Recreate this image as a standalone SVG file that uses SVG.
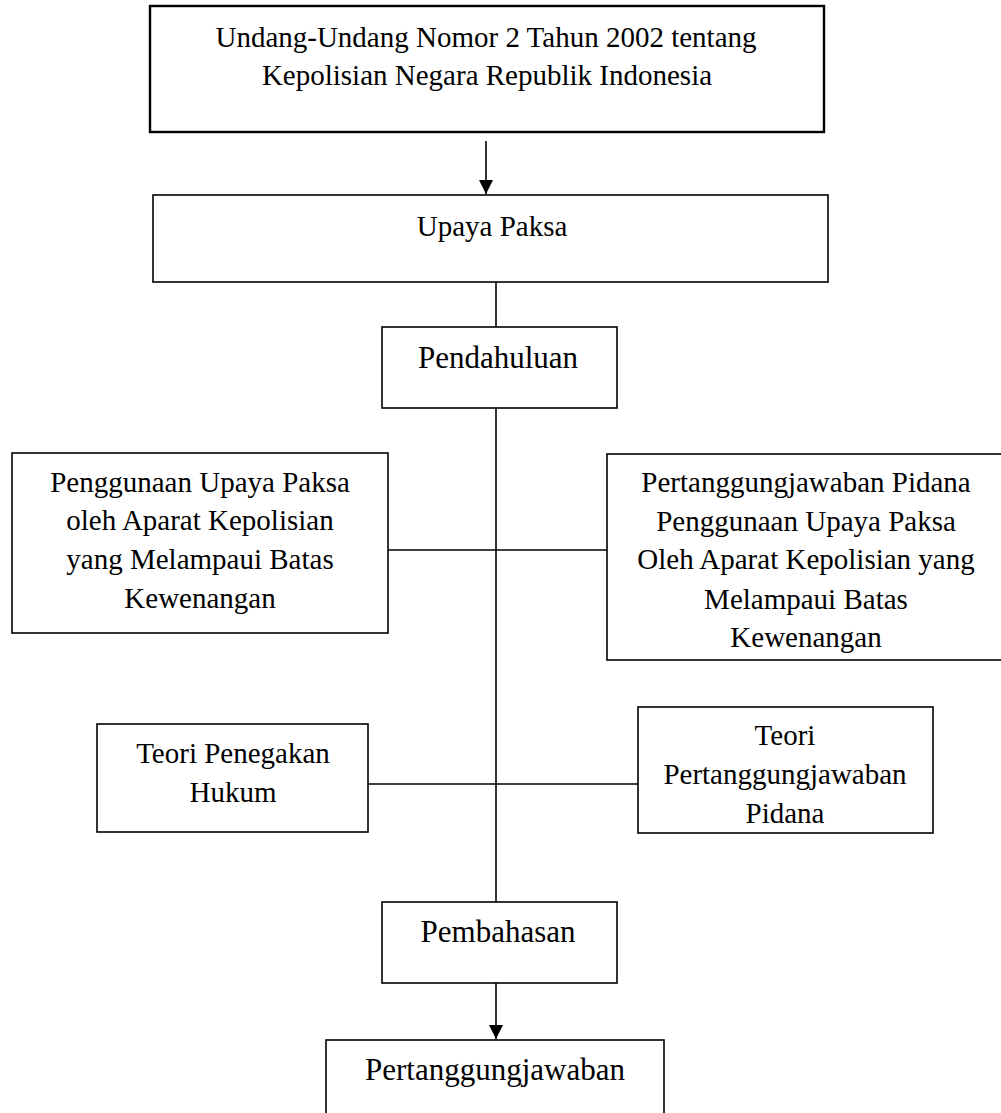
<svg xmlns="http://www.w3.org/2000/svg" width="1001" height="1113" viewBox="0 0 1001 1113">
<style>
.box{fill:#fff;stroke:#000;stroke-width:1.6}
.t{font-family:"Liberation Serif","Times New Roman",serif;font-size:29px;fill:#000;text-anchor:middle}
.b{font-size:31px}
.c{stroke:#000;stroke-width:1.6;fill:none}
</style>
<defs>
<marker id="ah" markerWidth="14" markerHeight="14" refX="14" refY="7" orient="auto" markerUnits="userSpaceOnUse">
<path d="M0,0 L14,7 L0,14 Z" fill="#000"/>
</marker>
</defs>
<rect width="1001" height="1113" fill="#fff"/>
<g id="connectors">
<line class="c" x1="486" y1="141" x2="486" y2="194" marker-end="url(#ah)"/>
<line class="c" x1="496" y1="282" x2="496" y2="327"/>
<line class="c" x1="496" y1="408" x2="496" y2="902"/>
<line class="c" x1="388" y1="550" x2="607" y2="550"/>
<line class="c" x1="368" y1="784" x2="638" y2="784"/>
<line class="c" x1="496" y1="983" x2="496" y2="1039" marker-end="url(#ah)"/>
</g>
<g id="uu">
<rect class="box" x="150" y="6" width="674" height="126" style="stroke-width:2.4"/>
<text class="t" x="486" y="47">Undang-Undang Nomor 2 Tahun 2002 tentang</text>
<text class="t" x="487" y="85">Kepolisian Negara Republik Indonesia</text>
</g>
<g id="upaya">
<rect class="box" x="153" y="195" width="675" height="87"/>
<text class="t" x="492" y="236">Upaya Paksa</text>
</g>
<g id="pendahuluan">
<rect class="box" x="382" y="327" width="235" height="81"/>
<text class="t b" x="498" y="368">Pendahuluan</text>
</g>
<g id="penggunaan">
<rect class="box" x="12" y="453" width="376" height="180"/>
<text class="t" x="200" y="492">Penggunaan Upaya Paksa</text>
<text class="t" x="200" y="530">oleh Aparat Kepolisian</text>
<text class="t" x="200" y="569">yang Melampaui Batas</text>
<text class="t" x="200" y="608">Kewenangan</text>
</g>
<g id="pertanggungjawaban-pidana">
<rect class="box" x="607" y="454" width="400" height="206"/>
<text class="t" x="806" y="492">Pertanggungjawaban Pidana</text>
<text class="t" x="806" y="531">Penggunaan Upaya Paksa</text>
<text class="t" x="806" y="569">Oleh Aparat Kepolisian yang</text>
<text class="t" x="806" y="609">Melampaui Batas</text>
<text class="t" x="806" y="647">Kewenangan</text>
</g>
<g id="teori-penegakan">
<rect class="box" x="97" y="724" width="271" height="108"/>
<text class="t" x="233" y="763">Teori Penegakan</text>
<text class="t" x="233" y="802">Hukum</text>
</g>
<g id="teori-pertanggungjawaban">
<rect class="box" x="638" y="707" width="295" height="126"/>
<text class="t" x="785" y="745">Teori</text>
<text class="t" x="785" y="784">Pertanggungjawaban</text>
<text class="t" x="785" y="823">Pidana</text>
</g>
<g id="pembahasan">
<rect class="box" x="382" y="902" width="235" height="81"/>
<text class="t b" x="498" y="942">Pembahasan</text>
</g>
<g id="pertanggungjawaban">
<rect class="box" x="326" y="1040" width="338" height="90"/>
<text class="t b" x="495" y="1080">Pertanggungjawaban</text>
</g>
</svg>
